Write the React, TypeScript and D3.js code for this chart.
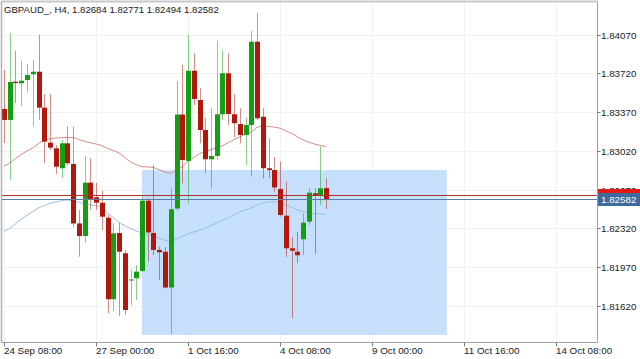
import React from "react";
import * as d3 from "d3";

const TITLE = "GBPAUD_, H4, 1.82684 1.82771 1.82494 1.82582";
const TIME_TICK_INDEX = [0, 16, 32, 48, 64, 80, 96];
const TIME_LABELS = ["24 Sep 08:00", "27 Sep 00:00", "1 Oct 16:00", "4 Oct 08:00", "9 Oct 00:00", "11 Oct 16:00", "14 Oct 08:00"];
const PRICE_TICKS = [1.8407, 1.8372, 1.8337, 1.8302, 1.8267, 1.8232, 1.8197, 1.8162];

const OPEN = [1.83398, 1.83299, 1.83644, 1.8363, 1.83659, 1.83711, 1.83734, 1.8341, 1.83094, 1.83043, 1.82863, 1.83088, 1.82902, 1.82365, 1.82252, 1.82733, 1.82601, 1.82552, 1.82417, 1.81681, 1.82279, 1.82096, 1.8185, 1.8187, 1.81936, 1.8257, 1.82279, 1.82126, 1.8211, 1.81787, 1.825, 1.83348, 1.82929, 1.83743, 1.83479, 1.83208, 1.82944, 1.82974, 1.8335, 1.8372, 1.8335, 1.83262, 1.83163, 1.83253, 1.84005, 1.83328, 1.82863, 1.82847, 1.82676, 1.82435, 1.82141, 1.8211, 1.82222, 1.82381, 1.82637, 1.82613, 1.82684];
const HIGH = [1.8375, 1.84084, 1.83924, 1.83834, 1.83804, 1.8384, 1.84068, 1.83533, 1.83533, 1.83073, 1.83118, 1.83244, 1.83238, 1.82487, 1.82974, 1.82953, 1.8273, 1.82661, 1.82441, 1.82367, 1.82369, 1.82126, 1.8195, 1.8199, 1.82607, 1.82595, 1.82893, 1.82155, 1.82153, 1.82682, 1.8365, 1.83795, 1.84065, 1.839, 1.83585, 1.83317, 1.83404, 1.84014, 1.83924, 1.839, 1.83533, 1.83404, 1.83323, 1.84104, 1.84267, 1.83404, 1.83133, 1.82965, 1.82922, 1.82742, 1.8224, 1.82291, 1.82457, 1.82685, 1.82682, 1.83058, 1.82771];
const LOW = [1.83091, 1.82757, 1.83452, 1.83425, 1.83545, 1.83238, 1.83299, 1.82911, 1.83028, 1.82811, 1.82775, 1.82893, 1.82333, 1.82065, 1.82189, 1.82487, 1.82487, 1.82306, 1.81554, 1.81575, 1.8153, 1.81539, 1.81629, 1.81674, 1.81927, 1.8202, 1.8208, 1.81855, 1.81778, 1.81368, 1.8248, 1.82727, 1.82547, 1.83434, 1.83088, 1.82818, 1.82682, 1.82938, 1.83299, 1.83253, 1.83142, 1.83088, 1.82893, 1.82787, 1.83299, 1.82773, 1.82775, 1.82652, 1.82426, 1.8206, 1.81509, 1.82006, 1.8208, 1.82351, 1.8209, 1.82532, 1.82494];
const CLOSE = [1.83299, 1.83641, 1.83632, 1.83653, 1.83705, 1.83734, 1.8341, 1.83103, 1.83049, 1.82877, 1.83088, 1.82908, 1.82365, 1.82252, 1.82733, 1.82586, 1.82552, 1.82426, 1.81681, 1.82276, 1.8211, 1.81584, 1.81859, 1.8193, 1.8257, 1.82284, 1.82126, 1.82105, 1.81787, 1.82493, 1.83348, 1.82938, 1.83743, 1.83488, 1.83208, 1.82944, 1.82974, 1.8335, 1.8372, 1.83353, 1.83269, 1.83163, 1.83253, 1.84005, 1.83314, 1.82863, 1.82847, 1.8269, 1.82441, 1.82141, 1.82119, 1.82078, 1.82372, 1.82643, 1.82616, 1.82682, 1.82582];

const MA_RED = [1.82883, 1.82911, 1.82951, 1.82987, 1.83019, 1.83046, 1.83087, 1.83115, 1.83129, 1.83136, 1.83139, 1.8314, 1.83139, 1.83123, 1.83106, 1.83094, 1.83082, 1.83068, 1.83043, 1.83023, 1.83001, 1.8296, 1.8292, 1.82897, 1.82877, 1.82875, 1.82868, 1.8285, 1.82829, 1.82818, 1.82847, 1.82875, 1.82924, 1.82961, 1.82995, 1.83013, 1.83031, 1.83048, 1.83066, 1.83095, 1.83121, 1.83147, 1.83168, 1.8319, 1.83231, 1.83243, 1.8324, 1.83234, 1.83224, 1.83201, 1.83178, 1.83147, 1.83121, 1.83098, 1.83082, 1.83069, 1.83058];
const MA_BLUE = [1.82297, 1.8232, 1.82363, 1.82404, 1.82439, 1.8247, 1.82505, 1.82526, 1.82547, 1.82559, 1.8257, 1.82576, 1.82568, 1.82557, 1.82544, 1.82532, 1.82526, 1.82509, 1.82459, 1.82419, 1.82374, 1.82345, 1.8232, 1.82297, 1.82279, 1.82265, 1.82252, 1.82231, 1.82213, 1.82204, 1.82225, 1.82247, 1.8227, 1.82288, 1.82304, 1.82324, 1.82346, 1.82369, 1.82392, 1.82418, 1.82444, 1.8247, 1.82488, 1.82506, 1.82529, 1.82547, 1.82559, 1.8256, 1.82552, 1.82532, 1.82511, 1.82488, 1.82472, 1.82459, 1.82454, 1.8245, 1.8245];

const BOX_INDEX = [24, 77];
const BOX_PRICE = [1.82847, 1.81359];
const BID = 1.82582;
const ASK = 1.82619;

const W = 640;
const H = 359;
const LEFT = 1.5;
const TOP = 1.5;
const RIGHT = 597.5;
const BOTTOM = 342.5;
const FONT = "'Liberation Sans', Arial, sans-serif";

const GREEN = "#12a012";
const RED = "#b3170b";

export default function App() {
  const x = d3.scaleLinear().domain([0, 96]).range([4, 556]);
  const y = d3.scaleLinear().domain([1.8407, 1.8162]).range([34.5, 306]);
  const fmt = d3.format(".5f");

  const maLine = d3
    .line<number>()
    .x((_, i) => x(i))
    .y((d) => y(d))
    .curve(d3.curveMonotoneX);

  const bidY = Math.round(y(BID)) + 0.5;
  const askY = Math.round(y(ASK)) + 0.5;

  return (
    <svg
      width={W}
      height={H}
      style={{ position: "absolute", left: 0, top: 0, background: "#fff" }}
      fontFamily={FONT}
    >
      <rect x={0} y={0} width={W} height={H} fill="#fff" />
      {/* grid */}
      {TIME_TICK_INDEX.map((t) => (
        <line key={"gx" + t} x1={Math.round(x(t)) + 0.5} x2={Math.round(x(t)) + 0.5} y1={TOP} y2={BOTTOM} stroke="#f1f1f1" />
      ))}
      {PRICE_TICKS.map((p) => (
        <line key={"gy" + p} x1={LEFT} x2={RIGHT} y1={Math.round(y(p)) + 0.5} y2={Math.round(y(p)) + 0.5} stroke="#f1f1f1" />
      ))}
      {/* rectangle object */}
      <rect
        x={x(BOX_INDEX[0])}
        y={y(BOX_PRICE[0])}
        width={x(BOX_INDEX[1]) - x(BOX_INDEX[0])}
        height={y(BOX_PRICE[1]) - y(BOX_PRICE[0])}
        fill="#c6e0fb"
      />
      {/* moving averages */}
      <path d={maLine(MA_RED) || ""} fill="none" stroke="#d48c86" strokeWidth={1} />
      <path d={maLine(MA_BLUE) || ""} fill="none" stroke="#93c0e2" strokeWidth={1} />
      {/* candles */}
      {OPEN.map((o, i) => {
        const c = CLOSE[i];
        const up = c >= o;
        const cx = Math.round(x(i));
        const col = up ? GREEN : RED;
        const top = y(Math.max(o, c));
        const bot = y(Math.min(o, c));
        return (
          <g key={i}>
            <line x1={cx + 0.5} x2={cx + 0.5} y1={y(HIGH[i])} y2={y(LOW[i])} stroke={col} strokeOpacity={0.5} />
            <rect x={cx - 2} y={top} width={5} height={Math.max(1, bot - top)} fill={col} />
          </g>
        );
      })}
      {/* bid / ask lines */}
      <line x1={LEFT} x2={RIGHT} y1={askY} y2={askY} stroke="#b03030" />
      <line x1={LEFT} x2={RIGHT} y1={bidY} y2={bidY} stroke="#5a7fa6" />
      {/* frame */}
      <line x1={LEFT} x2={RIGHT} y1={TOP} y2={TOP} stroke="#c8c8c8" strokeWidth={2} />
      <line x1={LEFT} x2={LEFT} y1={TOP} y2={BOTTOM} stroke="#b0b0b0" strokeWidth={1.5} />
      <line x1={RIGHT} x2={RIGHT} y1={TOP} y2={BOTTOM} stroke="#a0a0a0" />
      <line x1={LEFT} x2={RIGHT} y1={BOTTOM} y2={BOTTOM} stroke="#a0a0a0" />
      {/* title */}
      <text x={4} y={12.5} fontSize={9.6} fill="#1a1a1a">
        {TITLE}
      </text>
      {/* x axis */}
      {TIME_TICK_INDEX.map((t, k) => {
        const px = Math.round(x(t)) + 0.5;
        return (
          <g key={"xt" + t}>
            <line x1={px} x2={px} y1={BOTTOM} y2={BOTTOM + 4} stroke="#777" />
            <text x={px - 0.5} y={354} fontSize={9.8} fill="#1a1a1a">
              {TIME_LABELS[k]}
            </text>
          </g>
        );
      })}
      {/* y axis */}
      {PRICE_TICKS.map((p) => {
        const py = Math.round(y(p)) + 0.5;
        return (
          <g key={"yt" + p}>
            <line x1={RIGHT} x2={RIGHT + 3} y1={py} y2={py} stroke="#777" />
            <text x={601} y={py + 3} fontSize={9.8} fill="#1a1a1a">
              {fmt(p)}
            </text>
          </g>
        );
      })}
      {/* ask marker (label hidden behind bid label) */}
      <rect x={598} y={askY - 6.5} width={42} height={13} fill="#e31b12" />
      <rect x={598} y={bidY - 6.5} width={42} height={13} fill="#3e6b9e" />
      <text x={601} y={bidY + 3.5} fontSize={9.8} fill="#fff">
        {fmt(BID)}
      </text>
    </svg>
  );
}
